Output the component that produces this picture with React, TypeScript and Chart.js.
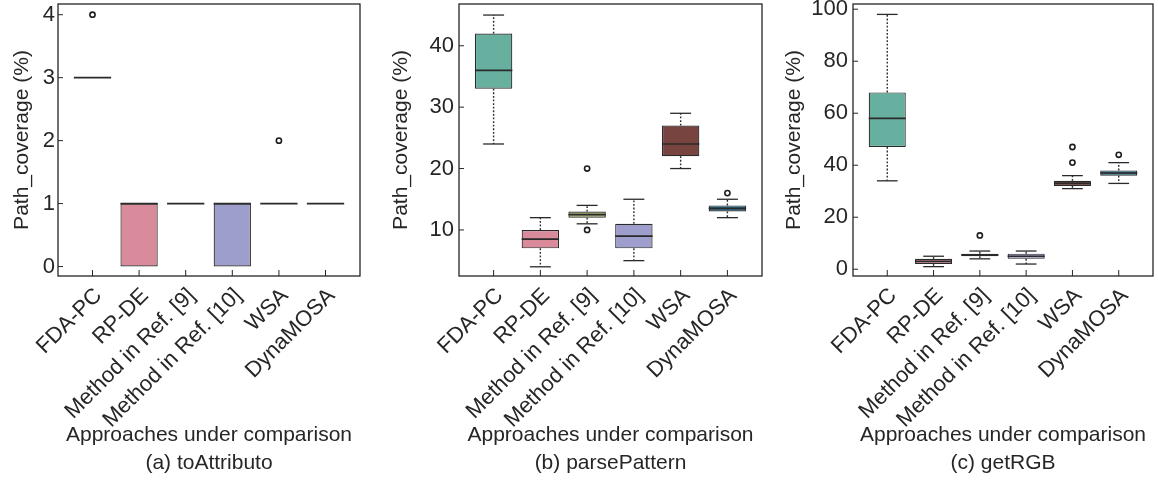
import React, { useEffect, useRef } from 'react';
import { Chart, registerables } from 'chart.js';

Chart.register(...registerables);

const FONT = "'Liberation Sans', Arial, Helvetica, sans-serif";
const INK = '#262626';

// ---------- shared labels ----------
const categories = ['FDA-PC', 'RP-DE', 'Method in Ref. [9]', 'Method in Ref. [10]', 'WSA', 'DynaMOSA'];
const boxColors = ['#67b09f', '#d98b9b', '#a5ad72', '#9e9ecd', '#774440', '#2c6a8a'];
const xAxisTitle = 'Approaches under comparison';
const yAxisTitle = 'Path_coverage (%)';

// ---------- (a) toAttributo ----------
const attrCaption = '(a) toAttributo';
const attrLow = [3, 0, 1, 0, 1, 1];
const attrQ1 = [3, 0, 1, 0, 1, 1];
const attrMedian = [3, 1, 1, 1, 1, 1];
const attrQ3 = [3, 1, 1, 1, 1, 1];
const attrHigh = [3, 1, 1, 1, 1, 1];
const attrOutliers = [[4], [], [], [], [2], []];
const attrTicks = [0, 1, 2, 3, 4];
const attrRange = [-0.15, 4.17];

// ---------- (b) parsePattern ----------
const parseCaption = '(b) parsePattern';
const parseLow = [24, 4, 11, 5, 20, 12];
const parseQ1 = [33, 7, 12, 7, 22, 13];
const parseMedian = [36, 8.5, 12.5, 9, 24, 13.5];
const parseQ3 = [42, 10, 13, 11, 27, 14];
const parseHigh = [45, 12, 14, 15, 29, 15];
const parseOutliers = [[], [], [20, 10], [], [], [16]];
const parseTicks = [10, 20, 30, 40];
const parseRange = [2.5, 46.8];

// ---------- (c) getRGB ----------
const rgbCaption = '(c) getRGB';
const rgbLow = [34, 1, 4, 2, 31, 33];
const rgbQ1 = [47, 2, 5, 4, 32, 36];
const rgbMedian = [58, 3, 5.5, 5, 33, 37];
const rgbQ3 = [68, 4, 6, 6, 34, 38];
const rgbHigh = [98, 5, 7, 7, 36, 41];
const rgbOutliers = [[], [], [13], [], [47, 41], [44]];
const rgbTicks = [0, 20, 40, 60, 80, 100];
const rgbRange = [-2.6, 102];

const xRange = [-0.74, 5.74];

type PanelData = {
  caption: string;
  low: number[];
  q1: number[];
  median: number[];
  q3: number[];
  high: number[];
  outliers: number[][];
  ticks: number[];
  range: number[];
};

type PanelLayout = { left: number; width: number; axisWidth: number; rightPad: number; titlePad: number; tickPad: number };

const panels: { data: PanelData; layout: PanelLayout }[] = [
  {
    data: { caption: attrCaption, low: attrLow, q1: attrQ1, median: attrMedian, q3: attrQ3, high: attrHigh, outliers: attrOutliers, ticks: attrTicks, range: attrRange },
    layout: { left: 0, width: 386, axisWidth: 58, rightPad: 26, titlePad: 10, tickPad: 3 },
  },
  {
    data: { caption: parseCaption, low: parseLow, q1: parseQ1, median: parseMedian, q3: parseQ3, high: parseHigh, outliers: parseOutliers, ticks: parseTicks, range: parseRange },
    layout: { left: 386, width: 386, axisWidth: 73, rightPad: 10, titlePad: 3, tickPad: 5 },
  },
  {
    data: { caption: rgbCaption, low: rgbLow, q1: rgbQ1, median: rgbMedian, q3: rgbQ3, high: rgbHigh, outliers: rgbOutliers, ticks: rgbTicks, range: rgbRange },
    layout: { left: 772, width: 386, axisWidth: 81, rightPad: 5, titlePad: 10, tickPad: 5 },
  },
];

const HEIGHT = 484;
const PLOT_TOP = 4;
const PLOT_BOTTOM = 276;

function line(ctx: CanvasRenderingContext2D, x1: number, y1: number, x2: number, y2: number) {
  ctx.beginPath();
  ctx.moveTo(x1, y1);
  ctx.lineTo(x2, y2);
  ctx.stroke();
}

function zeroPadding(s: any) {
  s.paddingTop = 0;
  s.paddingBottom = 0;
  s.paddingLeft = 0;
  s.paddingRight = 0;
}

function BoxPanel({ data, layout }: { data: PanelData; layout: PanelLayout }) {
  const ref = useRef<HTMLCanvasElement | null>(null);

  useEffect(() => {
    if (!ref.current) return;
    const d = data;
    const boxData = d.q1.map((v, i) => ({ x: i, y: [v, d.q3[i]] }));
    const outlierData: { x: number; y: number }[] = [];
    d.outliers.forEach((vals, i) => vals.forEach((v) => outlierData.push({ x: i, y: v })));

    const marksPlugin = {
      id: 'boxMarks',
      afterDatasetsDraw(chart: any) {
        const { ctx, chartArea } = chart;
        const y = chart.scales.y;
        const meta = chart.getDatasetMeta(0);
        ctx.save();
        ctx.beginPath();
        ctx.rect(chartArea.left, chartArea.top, chartArea.right - chartArea.left, chartArea.bottom - chartArea.top);
        ctx.clip();
        ctx.strokeStyle = '#2a2a2a';
        meta.data.forEach((el: any, i: number) => {
          const { x, width } = el.getProps(['x', 'width'], true);
          const capHalf = width * 0.28;
          const pLow = y.getPixelForValue(d.low[i]);
          const pQ1 = y.getPixelForValue(d.q1[i]);
          const pMed = y.getPixelForValue(d.median[i]);
          const pQ3 = y.getPixelForValue(d.q3[i]);
          const pHigh = y.getPixelForValue(d.high[i]);
          ctx.lineWidth = 1.4;
          ctx.setLineDash([1.8, 1.8]);
          if (d.high[i] > d.q3[i]) line(ctx, x, pQ3, x, pHigh);
          if (d.low[i] < d.q1[i]) line(ctx, x, pQ1, x, pLow);
          ctx.setLineDash([]);
          ctx.lineWidth = 1.3;
          if (d.high[i] > d.q3[i]) line(ctx, x - capHalf, pHigh, x + capHalf, pHigh);
          if (d.low[i] < d.q1[i]) line(ctx, x - capHalf, pLow, x + capHalf, pLow);
          ctx.lineWidth = 1.7;
          line(ctx, x - width / 2, pMed, x + width / 2, pMed);
        });
        ctx.restore();
      },
      afterDraw(chart: any) {
        const { ctx, chartArea } = chart;
        const { left, right, top, bottom } = chartArea;
        const x = chart.scales.x;
        const y = chart.scales.y;
        ctx.save();
        ctx.strokeStyle = INK;
        ctx.lineWidth = 1;
        y.ticks.forEach((t: any) => {
          const py = y.getPixelForValue(t.value);
          line(ctx, left, py, left + 5, py);
        });
        x.ticks.forEach((t: any) => {
          const px = x.getPixelForValue(t.value);
          line(ctx, px, bottom, px, bottom - 6);
        });
        ctx.lineWidth = 1.3;
        ctx.strokeRect(left, top, right - left, bottom - top);
        ctx.restore();
      },
    };

    const chart = new Chart(ref.current, {
      type: 'bar',
      data: {
        datasets: [
          {
            type: 'bar',
            data: boxData as any,
            backgroundColor: boxColors,
            borderColor: '#2a2a2a',
            borderWidth: 1.2,
            borderSkipped: false,
            barPercentage: 1,
            categoryPercentage: 0.8,
          } as any,
          {
            type: 'scatter',
            data: outlierData,
            pointRadius: 2.6,
            pointBackgroundColor: '#ffffff',
            pointBorderColor: '#1e1e1e',
            pointBorderWidth: 1.6,
          } as any,
        ],
      },
      options: {
        responsive: false,
        animation: false,
        devicePixelRatio: 1,
        events: [],
        layout: { autoPadding: false, padding: { top: PLOT_TOP, right: layout.rightPad, left: 0, bottom: 0 } },
        plugins: { legend: { display: false }, tooltip: { enabled: false }, title: { display: false } },
        scales: {
          x: {
            type: 'linear',
            offset: false,
            min: xRange[0],
            max: xRange[1],
            grid: { display: false, drawTicks: false, offset: false },
            border: { display: false },
            afterBuildTicks: (s: any) => {
              s.ticks = categories.map((_, i) => ({ value: i }));
            },
            afterFit: (s: any) => {
              s.height = HEIGHT - PLOT_BOTTOM;
              zeroPadding(s);
            },
            ticks: {
              autoSkip: false,
              minRotation: 45,
              maxRotation: 45,
              padding: 7,
              labelOffset: 6,
              color: INK,
              font: { family: FONT, size: 22 },
              callback: (_v: any, i: number) => categories[i],
            },
            title: {
              display: true,
              text: [xAxisTitle, d.caption],
              color: INK,
              font: { family: FONT, size: 21, lineHeight: 28 / 21 },
              padding: { top: 0, bottom: 7 },
            },
          },
          y: {
            type: 'linear',
            min: d.range[0],
            max: d.range[1],
            grid: { display: false, drawTicks: false },
            border: { display: false },
            afterBuildTicks: (s: any) => {
              s.ticks = d.ticks.map((v) => ({ value: v }));
            },
            afterFit: (s: any) => {
              s.width = layout.axisWidth;
              zeroPadding(s);
            },
            ticks: {
              padding: layout.tickPad,
              color: INK,
              font: { family: FONT, size: 22 },
            },
            title: {
              display: true,
              text: yAxisTitle,
              color: INK,
              font: { family: FONT, size: 21, lineHeight: 1.2 },
              padding: { top: layout.titlePad, bottom: 0 },
            },
          },
        },
      } as any,
      plugins: [marksPlugin],
    });
    return () => chart.destroy();
  }, [data, layout]);

  return (
    <canvas
      ref={ref}
      width={layout.width}
      height={HEIGHT}
      style={{ position: 'absolute', left: layout.left, top: 0, width: layout.width, height: HEIGHT, display: 'block' }}
    />
  );
}

export default function App() {
  return (
    <div style={{ position: 'absolute', left: 0, top: 0, width: 1158, height: HEIGHT, background: '#ffffff', overflow: 'hidden' }}>
      {panels.map((p, i) => (
        <BoxPanel key={i} data={p.data} layout={p.layout} />
      ))}
    </div>
  );
}
